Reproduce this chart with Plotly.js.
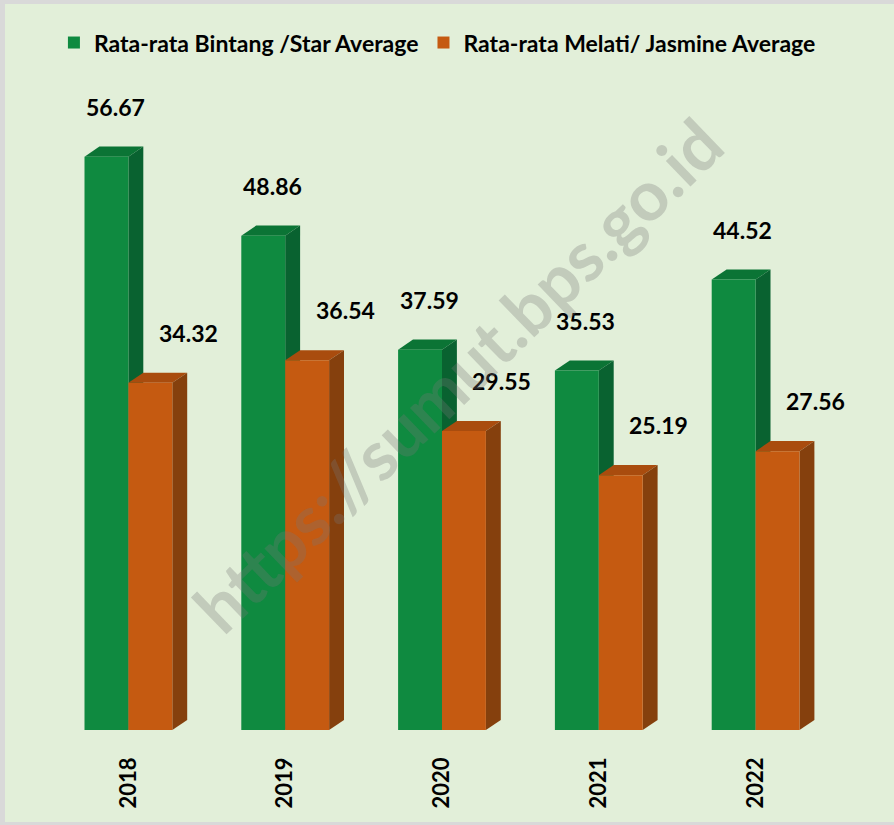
<!DOCTYPE html>
<html>
<head>
<meta charset="utf-8">
<script src="https://cdn.plot.ly/plotly-3.0.1.min.js"></script>
<style>
  html, body { margin: 0; padding: 0; background: #ffffff; }
  #frame {
    width: 894px; height: 825px; box-sizing: border-box;
    border-left: 5px solid #d9d9d9; border-top: 4px solid #d9d9d9; border-bottom: 3px solid #d9d9d9;
    background: #E2EFD9;
  }
  #chart { width: 889px; height: 818px; }
</style>
</head>
<body>
<div id="frame"><div id="chart"></div></div>
<script>
// Average room occupancy by hotel class, 2018-2022
const years = ['2018', '2019', '2020', '2021', '2022'];
const starAvg = [56.67, 48.86, 37.59, 35.53, 44.52];
const jasmineAvg = [34.32, 36.54, 29.55, 25.19, 27.56];
const seriesNames = ['Rata-rata Bintang /Star Average', 'Rata-rata Melati/ Jasmine Average'];

// styling
const FONT = 'Lato, "Open Sans", sans-serif';
const BAR_W = 0.28;          // width of each bar face (category units)
const DEPTH_X = 0.095;       // extrusion to the right (category units)
const DEPTH_Y = 1.0;         // extrusion upwards (value units)
const green = { front: '#0F8A40', top: '#0B7435', side: '#096230' };
const orange = { front: '#C55A11', top: '#A94C0E', side: '#85400D' };

const xs = years.map((_, i) => i);

function faces(x0, v, col) {
  const x1 = x0 + BAR_W;
  const top = `M ${x0},${v} L ${x0 + DEPTH_X},${v + DEPTH_Y} L ${x1 + DEPTH_X},${v + DEPTH_Y} L ${x1},${v} Z`;
  const side = `M ${x1},0 L ${x1 + DEPTH_X},${DEPTH_Y} L ${x1 + DEPTH_X},${v + DEPTH_Y} L ${x1},${v} Z`;
  return [
    { type: 'path', path: top, xref: 'x', yref: 'y', layer: 'below', fillcolor: col.top, line: { width: 0 } },
    { type: 'path', path: side, xref: 'x', yref: 'y', layer: 'below', fillcolor: col.side, line: { width: 0 } }
  ];
}

const shapes = [];
xs.forEach(i => {
  shapes.push(...faces(i - BAR_W, starAvg[i], green));
  shapes.push(...faces(i, jasmineAvg[i], orange));
});

const traces = [
  {
    type: 'bar', name: seriesNames[0], x: xs, y: starAvg,
    width: BAR_W, offset: -BAR_W,
    marker: { color: green.front, line: { width: 0 } },
    hoverinfo: 'skip'
  },
  {
    type: 'bar', name: seriesNames[1], x: xs, y: jasmineAvg,
    width: BAR_W, offset: 0,
    marker: { color: orange.front, line: { width: 0 } },
    hoverinfo: 'skip'
  }
];

const labelFont = { family: FONT, size: 23, color: '#000000', weight: 'bold' };
const annotations = [];
xs.forEach(i => {
  annotations.push({
    x: i - BAR_W / 2, y: starAvg[i], xref: 'x', yref: 'y',
    text: '<b>' + starAvg[i].toFixed(2) + '</b>', showarrow: false,
    xshift: 9, yshift: 50, font: labelFont
  });
  annotations.push({
    x: i + BAR_W / 2, y: jasmineAvg[i], xref: 'x', yref: 'y',
    text: '<b>' + jasmineAvg[i].toFixed(2) + '</b>', showarrow: false,
    xshift: 38, yshift: 50, font: labelFont
  });
});

// site watermark
annotations.push({
  xref: 'paper', yref: 'paper', x: 0.52, y: 0.585,
  text: '<b>https://sumut.bps.go.id</b>', showarrow: false, textangle: -44,
  font: { family: FONT, size: 69, color: 'rgba(120,120,120,0.30)' }
});

const layout = {
  width: 889, height: 818,
  margin: { l: 44.5, r: 59.5, t: 119.4, b: 92, pad: 0 },
  paper_bgcolor: '#E2EFD9', plot_bgcolor: '#E2EFD9',
  barmode: 'overlay',
  showlegend: true,
  legend: {
    orientation: 'h', x: 0.005, xanchor: 'left', y: 1.1325, yanchor: 'middle',
    font: { family: FONT, size: 23, color: '#000000', weight: 'bold' },
    bgcolor: 'rgba(0,0,0,0)', itemwidth: 30, traceorder: 'normal'
  },
  xaxis: {
    range: [-0.5, 4.5], tickmode: 'array', tickvals: xs, ticktext: years.map(y => '<b>' + y + '</b>'),
    tickangle: -90, ticks: '', ticklabelstandoff: 22,
    tickfont: { family: FONT, size: 22, color: '#000000' },
    showgrid: false, zeroline: false, showline: false, fixedrange: true
  },
  yaxis: {
    range: [0, 60], visible: false, showgrid: false, zeroline: false, fixedrange: true
  },
  shapes: shapes,
  annotations: annotations
};

Plotly.newPlot('chart', traces, layout, { staticPlot: true, displayModeBar: false });
</script>
</body>
</html>
